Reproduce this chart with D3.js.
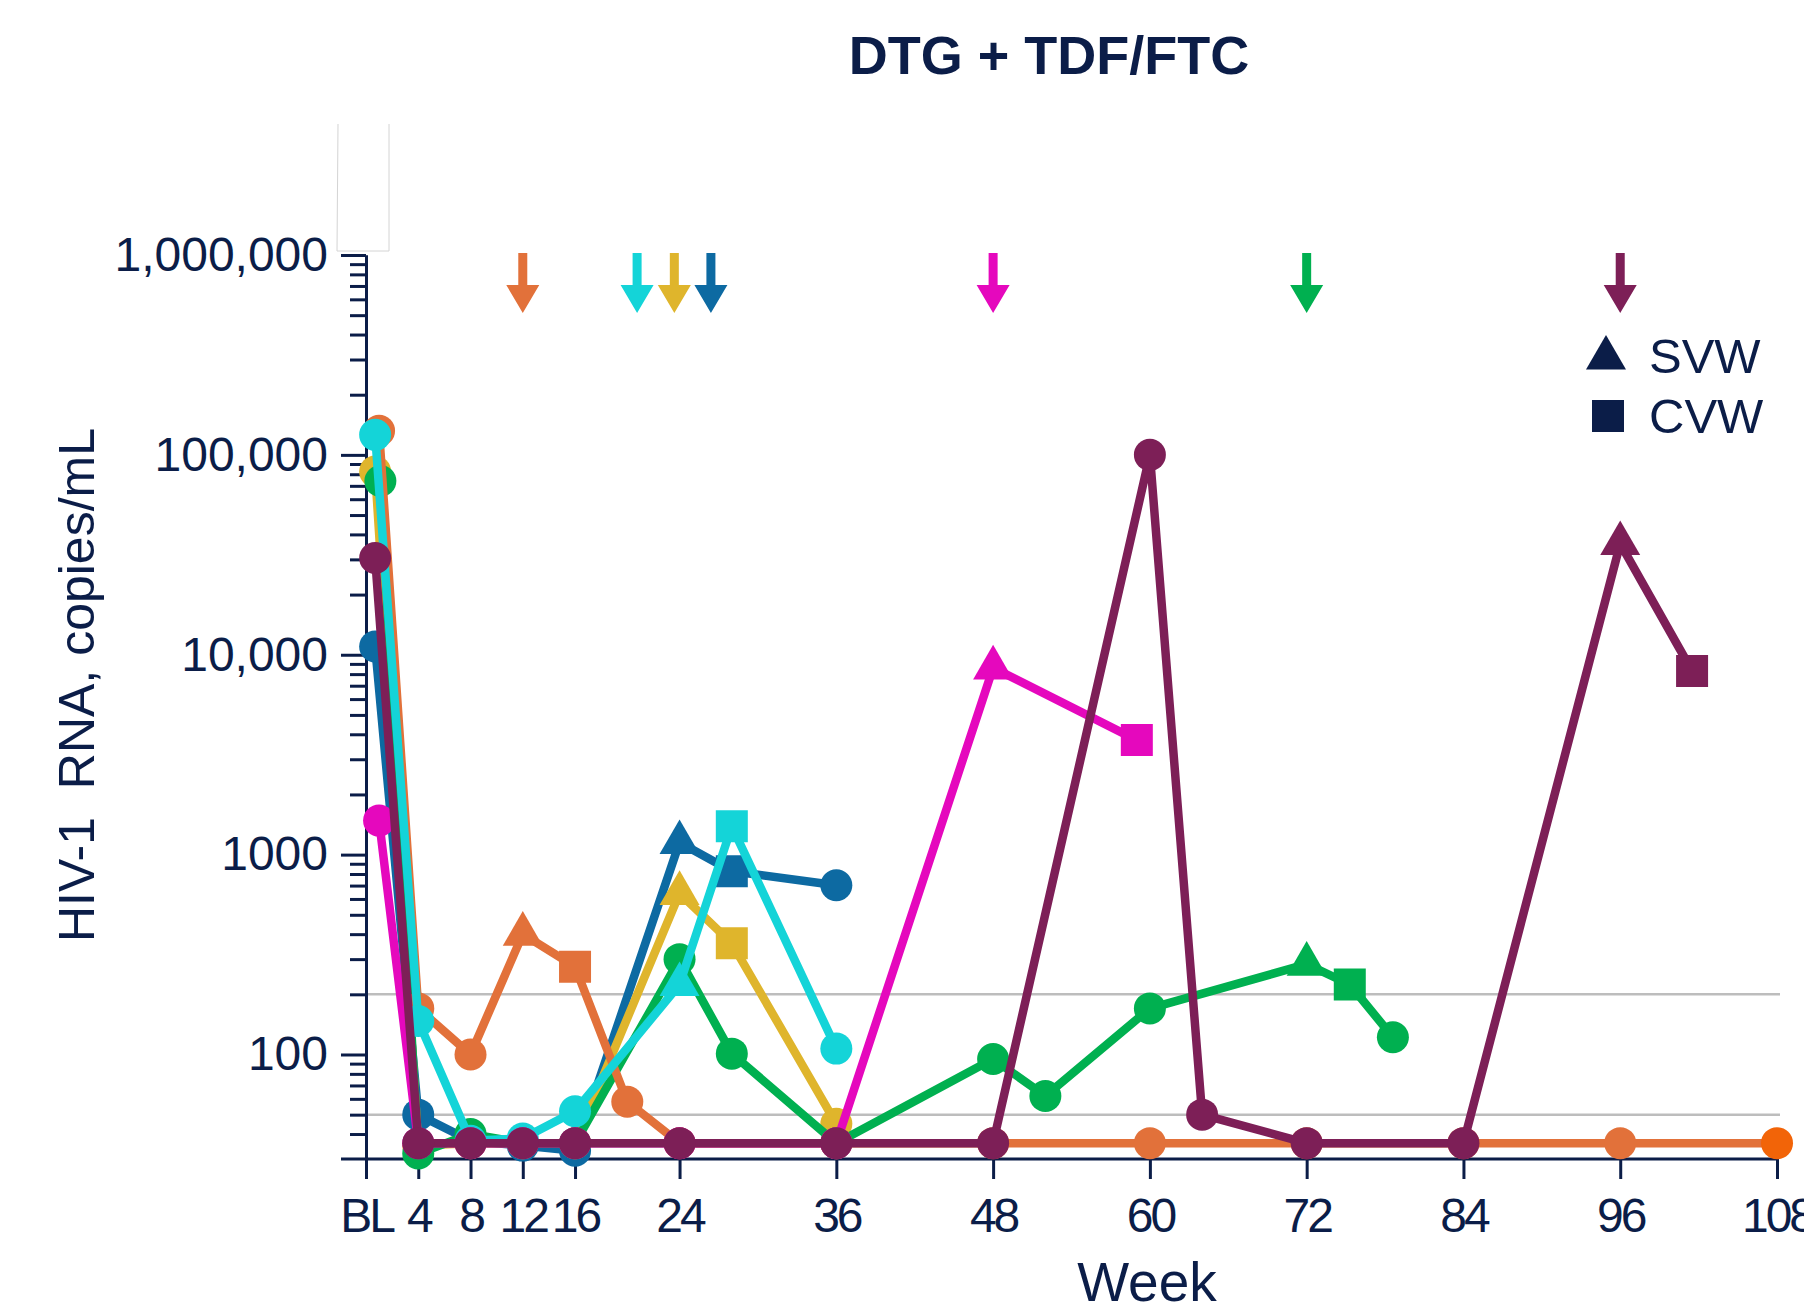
<!DOCTYPE html>
<html>

<head>
    <meta charset='utf-8'>
    <title>DTG + TDF/FTC</title>
    <script type='text/javascript' src='https://cdn.jsdelivr.net/npm/d3@7'></script>
    <style>
        body { margin: 0; background: #fff; }
        text { font-family: 'Liberation Sans', Arial, sans-serif; fill: #0b1d48; }
    </style>
</head>

<body>
    <svg width='1804' height='1313'></svg>
    <script type='text/javascript'>

        // axis ticks
        const weekTicks = [0, 4, 8, 12, 16, 24, 36, 48, 60, 72, 84, 96, 108]
        const weekLabels = ['BL', '4', '8', '12', '16', '24', '36', '48', '60', '72', '84', '96', '108']
        const yTicks = [100, 1000, 10000, 100000, 1000000]
        const yLabels = ['100', '1000', '10,000', '100,000', '1,000,000']
        const refLines = [50, 200]

        // one participant per colour; c = circle, t = SVW (triangle), s = CVW (square)
        const blueWeeks = [0.7, 4, 8, 12, 16, 24, 28, 36]
        const blueValues = [11000, 50, 37, 35, 33, 1150, 826, 703]
        const blueMarks = ['c', 'c', 'c', 'c', 'c', 't', 's', 'c']

        const yellowWeeks = [0.7, 4, 8, 12, 16, 24, 28, 36]
        const yellowValues = [82500, 35, 36, 36, 36, 640, 360, 45]
        const yellowMarks = ['c', 'c', 'c', 'c', 'c', 't', 's', 'c']

        const greenWeeks = [1.1, 4, 8, 12, 16, 24, 28, 36, 48, 52, 60, 72, 75.3, 78.6]
        const greenValues = [74000, 32, 40, 36, 36, 300, 101, 36, 95, 62, 170, 283, 224, 122]
        const greenMarks = ['c', 'c', 'c', 'c', 'c', 'c', 'c', 'c', 'c', 'c', 'c', 't', 's', 'c']

        const orangeWeeks = [1, 4, 8, 12, 16, 20, 24, 36, 48, 60, 72, 84, 96, 108]
        const orangeValues = [132000, 170, 100, 400, 275, 58, 36, 36, 36, 36, 36, 36, 36, 36]
        const orangeMarks = ['c', 'c', 'c', 't', 's', 'c', 'c', 'c', 'c', 'c', 'c', 'c', 'c', 'c']

        const cyanWeeks = [0.7, 4, 8, 12, 16, 24, 28, 36]
        const cyanValues = [126000, 147, 37, 38, 52, 224, 1387, 107]
        const cyanMarks = ['c', 'c', 'c', 'c', 'c', 't', 's', 'c']

        const magentaWeeks = [1, 4, 8, 12, 16, 24, 36, 48, 59]
        const magentaValues = [1480, 36, 36, 36, 36, 36, 36, 8600, 3740]
        const magentaMarks = ['c', 'c', 'c', 'c', 'c', 'c', 'c', 't', 's']

        const purpleWeeks = [0.7, 4, 8, 12, 16, 24, 36, 48, 60, 64, 72, 84, 96, 101.5]
        const purpleValues = [30500, 36, 36, 36, 36, 36, 36, 36, 100000, 50, 36, 36, 36000, 8300]
        const purpleMarks = ['c', 'c', 'c', 'c', 'c', 'c', 'c', 'c', 'c', 'c', 'c', 'c', 't', 's']

        // arrows marking the SVW of each participant
        const arrowWeeks = [12, 20.75, 23.6, 26.4, 48, 72, 96]
        const arrowColors = ['#e2713a', '#14d4d8', '#dfb52c', '#0d6aa2', '#e508bd', '#00b050', '#7d1f57']

        const series = [
            { color: '#0d6aa2', weeks: blueWeeks, values: blueValues, marks: blueMarks },
            { color: '#dfb52c', weeks: yellowWeeks, values: yellowValues, marks: yellowMarks },
            { color: '#00b050', weeks: greenWeeks, values: greenValues, marks: greenMarks },
            { color: '#e2713a', weeks: orangeWeeks, values: orangeValues, marks: orangeMarks, lastColor: '#f26408' },
            { color: '#14d4d8', weeks: cyanWeeks, values: cyanValues, marks: cyanMarks },
            { color: '#e508bd', weeks: magentaWeeks, values: magentaValues, marks: magentaMarks },
            { color: '#7d1f57', weeks: purpleWeeks, values: purpleValues, marks: purpleMarks }
        ]

        const navy = '#0b1d48'
        const svg = d3.select('svg')

        const x = d3.scaleLinear().domain([0, 108]).range([366, 1777])
        const y = d3.scaleLog().domain([30, 1e6]).range([1159, 255])

        // odd white box left over above the axis
        svg.append('path')
            .attr('d', 'M338,124 L337,251 L389,251 L389,124')
            .attr('fill', '#fff')
            .attr('stroke', '#d4d4d4')
            .attr('stroke-width', 1)

        // title and axis labels
        svg.append('text')
            .attr('x', 1049).attr('y', 74)
            .attr('text-anchor', 'middle')
            .attr('font-size', 54).attr('font-weight', 'bold')
            .text('DTG + TDF/FTC')

        svg.append('text')
            .attr('transform', 'translate(94,685) rotate(-90)')
            .attr('text-anchor', 'middle')
            .attr('font-size', 50)
            .style('white-space', 'pre')
            .text('HIV-1  RNA, copies/mL')

        svg.append('text')
            .attr('x', 1147).attr('y', 1301)
            .attr('text-anchor', 'middle')
            .attr('font-size', 55)
            .text('Week')

        // 50 and 200 copies reference lines
        svg.selectAll('.ref')
            .data(refLines)
            .enter()
            .append('line')
            .attr('x1', x(0)).attr('x2', 1780)
            .attr('y1', d => y(d)).attr('y2', d => y(d))
            .attr('stroke', '#bdbdbd')
            .attr('stroke-width', 2.5)

        // y axis: minor ticks, then major ticks with labels
        const minorTicks = y.ticks().filter(d => d > 30 && !yTicks.includes(d))
        svg.append('g')
            .attr('transform', `translate(${x(0)},0)`)
            .call(d3.axisLeft(y).tickValues(minorTicks).tickSize(16).tickSizeOuter(0).tickFormat(''))
        const yMajor = svg.append('g')
            .attr('transform', `translate(${x(0)},0)`)
            .call(d3.axisLeft(y).tickValues(yTicks).tickSize(25).tickSizeOuter(0).tickPadding(13)
                .tickFormat((d, i) => yLabels[i]))
        yMajor.selectAll('text').attr('font-size', 48).attr('fill', navy).attr('font-family', null)

        // x axis
        const xAxis = svg.append('g')
            .attr('transform', `translate(0,${y(30)})`)
            .call(d3.axisBottom(x).tickValues(weekTicks).tickSize(20).tickPadding(19)
                .tickFormat((d, i) => weekLabels[i]))
        xAxis.select('.domain').remove()
        xAxis.append('line')
            .attr('x1', x(0) - 25).attr('x2', x(108))
            .attr('stroke', navy).attr('stroke-width', 3)
        xAxis.selectAll('text')
            .attr('font-size', 48).attr('fill', navy).attr('font-family', null)
            .attr('letter-spacing', -3)

        svg.selectAll('.domain').attr('stroke', navy).attr('stroke-width', 3)
        svg.selectAll('.tick line').attr('stroke', navy).attr('stroke-width', 3)

        // arrows
        const arrowShape = 'M-4.5,253 L4.5,253 L4.5,285 L16.5,285 L0,313 L-16.5,285 L-4.5,285 Z'
        svg.selectAll('.arrow')
            .data(arrowWeeks)
            .enter()
            .append('path')
            .attr('transform', d => `translate(${x(d)},0)`)
            .attr('d', arrowShape)
            .attr('fill', (d, i) => arrowColors[i])

        // participant lines and markers
        const line = d3.line()
            .x(d => x(d.week))
            .y(d => y(d.value))

        const triangle = d3.symbol().type(d3.symbolTriangle).size(693)
        const square = d3.symbol().type(d3.symbolSquare).size(1024)

        series.forEach(s => {
            const pts = s.weeks.map((w, i) => ({ week: w, value: s.values[i], mark: s.marks[i] }))
            const g = svg.append('g')

            g.append('path')
                .attr('d', line(pts))
                .attr('fill', 'none')
                .attr('stroke', s.color)
                .attr('stroke-width', 8.5)
                .attr('stroke-linejoin', 'round')

            pts.forEach((p, i) => {
                const fill = (s.lastColor && i === pts.length - 1) ? s.lastColor : s.color
                if (p.mark === 'c') {
                    g.append('circle')
                        .attr('cx', x(p.week)).attr('cy', y(p.value))
                        .attr('r', 16)
                        .attr('fill', fill)
                } else {
                    g.append('path')
                        .attr('transform', `translate(${x(p.week)},${y(p.value)})`)
                        .attr('d', p.mark === 't' ? triangle() : square())
                        .attr('fill', fill)
                }
            })
        })

        // legend
        const legend = svg.append('g')
        legend.append('path')
            .attr('transform', 'translate(1606,358)')
            .attr('d', triangle())
            .attr('fill', navy)
        legend.append('path')
            .attr('transform', 'translate(1608,416)')
            .attr('d', square())
            .attr('fill', navy)
        legend.append('text')
            .attr('x', 1649).attr('y', 373)
            .attr('font-size', 49)
            .text('SVW')
        legend.append('text')
            .attr('x', 1649).attr('y', 433)
            .attr('font-size', 49)
            .text('CVW')
    </script>
</body>

</html>
